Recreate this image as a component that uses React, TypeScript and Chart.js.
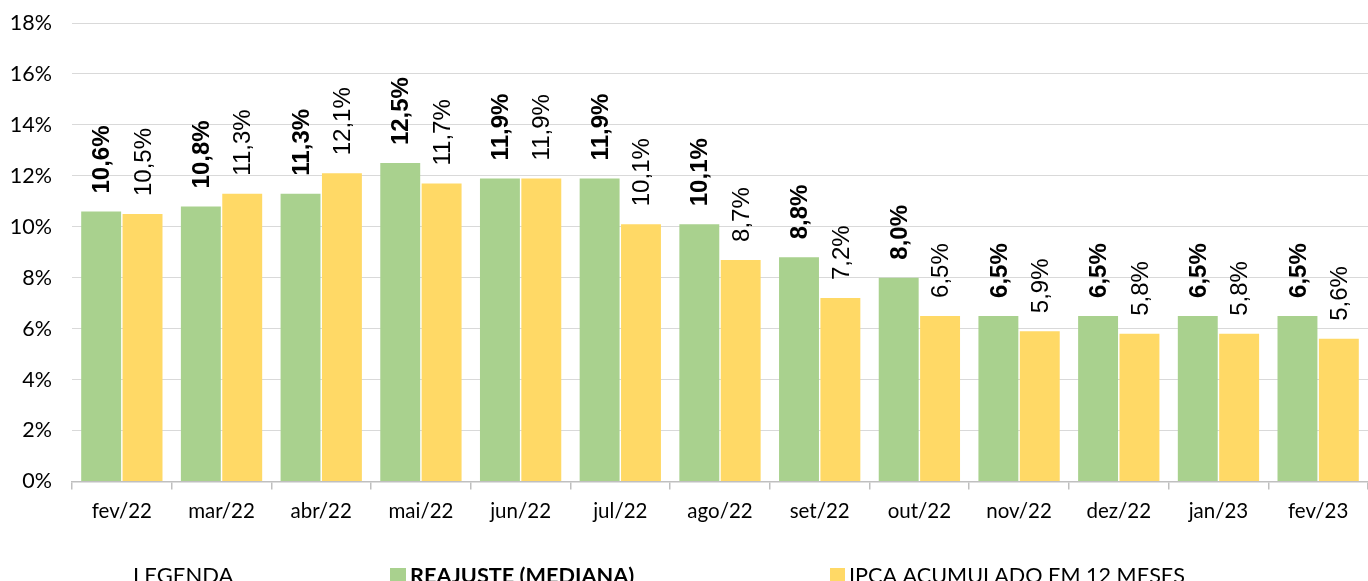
import React, { useEffect, useRef } from "react";
import { Chart, registerables } from "chart.js";

Chart.register(...registerables);

const categories = ["fev/22", "mar/22", "abr/22", "mai/22", "jun/22", "jul/22", "ago/22", "set/22", "out/22", "nov/22", "dez/22", "jan/23", "fev/23"];
const reajuste = [10.6, 10.8, 11.3, 12.5, 11.9, 11.9, 10.1, 8.8, 8.0, 6.5, 6.5, 6.5, 6.5];
const ipca = [10.5, 11.3, 12.1, 11.7, 11.9, 10.1, 8.7, 7.2, 6.5, 5.9, 5.8, 5.8, 5.6];
const legendTitle = "LEGENDA";
const seriesNames = ["REAJUSTE (MEDIANA)", "IPCA ACUMULADO EM 12 MESES"];
const GREEN = "#A9D18E";
const YELLOW = "#FFD966";

const fmt = (v: number) => v.toFixed(1).replace(".", ",") + "%";

const labelPlugin = {
  id: "barLabels",
  afterDatasetsDraw(chart: any) {
    const ctx = chart.ctx;
    chart.data.datasets.forEach((ds: any, di: number) => {
      const meta = chart.getDatasetMeta(di);
      meta.data.forEach((el: any, i: number) => {
        ctx.save();
        ctx.translate(el.x + 1.5, el.y - 18);
        ctx.rotate(-Math.PI / 2);
        ctx.font = (di === 0 ? "bold " : "") + "24px 'Liberation Sans', Arial, sans-serif";
        ctx.fillStyle = "#000";
        ctx.textAlign = "left";
        ctx.textBaseline = "middle";
        ctx.fillText(fmt(ds.data[i]), 0, 0);
        ctx.restore();
      });
    });
  },
};

const legendPlugin = {
  id: "bottomLegend",
  afterDraw(chart: any) {
    const ctx = chart.ctx;
    ctx.save();
    ctx.fillStyle = "#000";
    ctx.textBaseline = "alphabetic";
    ctx.textAlign = "left";
    ctx.font = "22px Lato, sans-serif";
    ctx.fillText(legendTitle, 133, 583);
    ctx.fillStyle = GREEN;
    ctx.fillRect(390, 568, 16, 16);
    ctx.fillStyle = "#000";
    ctx.font = "bold 21.7px Lato, sans-serif";
    ctx.fillText(seriesNames[0], 410, 583);
    ctx.fillStyle = YELLOW;
    ctx.fillRect(830, 568, 15, 16);
    ctx.fillStyle = "#000";
    ctx.font = "21.6px Lato, sans-serif";
    ctx.fillText(seriesNames[1], 849, 583);
    ctx.restore();
  },
};

export default function App() {
  const ref = useRef<HTMLCanvasElement>(null);
  useEffect(() => {
    const chart = new Chart(ref.current!, {
      type: "bar",
      data: {
        labels: categories,
        datasets: [
          { label: seriesNames[0], data: reajuste, backgroundColor: GREEN, categoryPercentage: 0.83, barPercentage: 0.965 },
          { label: seriesNames[1], data: ipca, backgroundColor: YELLOW, categoryPercentage: 0.83, barPercentage: 0.965 },
        ],
      },
      options: {
        animation: false,
        responsive: false,
        maintainAspectRatio: false,
        layout: { padding: { top: 23, left: 0, right: 0, bottom: 0 } },
        plugins: { legend: { display: false }, tooltip: { enabled: false } },
        scales: {
          x: {
            offset: true,
            grid: { offset: true, drawOnChartArea: false, drawTicks: true, tickLength: 8, color: "#bfbfbf", lineWidth: 1.5 },
            border: { display: true, color: "#bfbfbf", width: 1.5 },
            ticks: { color: "#000", font: { family: "Lato", size: 20.5 }, padding: 10, maxRotation: 0, autoSkip: false },
            afterFit: (s: any) => { s.height = 99.5; s.paddingLeft = 0; s.paddingRight = 0; },
          },
          y: {
            min: 0,
            max: 18,
            ticks: { stepSize: 2, color: "#000", font: { family: "Lato", size: 21.5 }, padding: 20, callback: (v: any) => v + "%" },
            grid: { color: "#d9d9d9", lineWidth: 1, drawTicks: false },
            border: { display: false },
            afterFit: (s: any) => { s.width = 72; s.paddingTop = 0; s.paddingBottom = 0; },
          },
        },
      },
      plugins: [labelPlugin, legendPlugin],
    });
    return () => chart.destroy();
  }, []);
  return (
    <div style={{ position: "fixed", left: 0, top: 0, width: 1368, height: 581, background: "#fff" }}>
      <canvas ref={ref} width={1368} height={581} style={{ width: 1368, height: 581 }} />
    </div>
  );
}
